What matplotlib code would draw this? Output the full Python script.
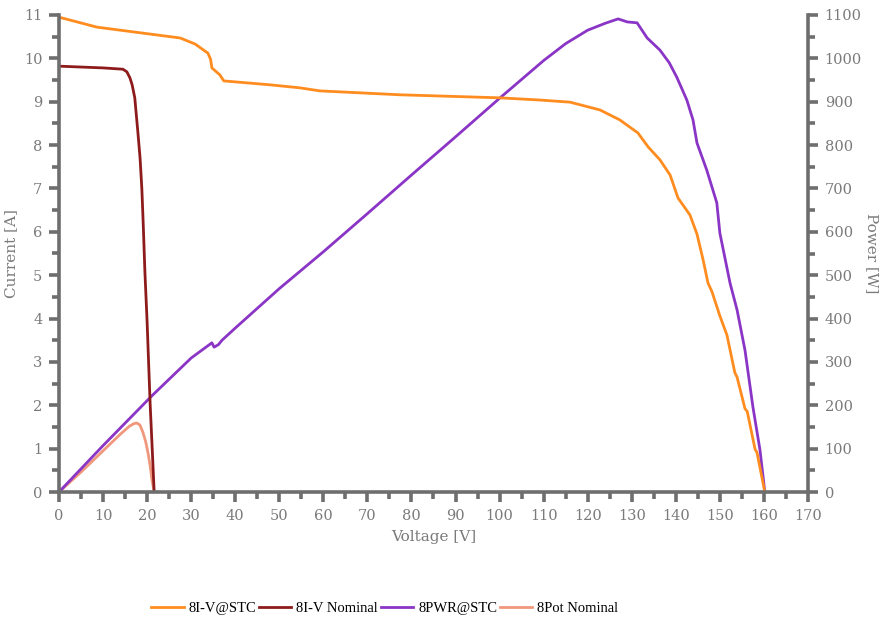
import matplotlib
matplotlib.use("Agg")
import matplotlib.pyplot as plt
from matplotlib.ticker import MultipleLocator

# I-V curve at STC (voltage [V], current [A])
iv_stc_v = [0, 8.6, 20.7, 27.5, 30.9, 33.8, 34.4, 34.7, 36.5, 37.4, 47.9, 54.7, 59.2,
            77.4, 100, 109, 116, 122.8, 127.3, 131.4, 133.7, 136.4, 138.7, 140.5,
            143.2, 144.8, 146.2, 147.3, 148.2, 150, 151.6, 153.4, 153.9, 155.7,
            156.2, 158, 158.4, 160.2]
iv_stc_i = [10.95, 10.72, 10.56, 10.47, 10.33, 10.12, 9.98, 9.78, 9.62, 9.48, 9.39,
            9.32, 9.25, 9.16, 9.09, 9.04, 8.99, 8.81, 8.58, 8.28, 7.96, 7.66, 7.31,
            6.78, 6.39, 5.95, 5.35, 4.82, 4.62, 4.06, 3.62, 2.75, 2.65, 1.92,
            1.86, 0.98, 0.92, 0.0]

# Nominal I-V curve
iv_nom_v = [0, 5, 10, 14.5, 15.4, 16.1, 16.6, 17.2, 17.9, 18.4, 18.8, 19.1, 19.5,
            20.0, 20.35, 20.7, 21.2, 21.6]
iv_nom_i = [9.82, 9.80, 9.78, 9.75, 9.69, 9.55, 9.39, 9.09, 8.30, 7.70, 7.00, 6.23,
            5.07, 3.92, 2.95, 2.0, 0.9, 0.0]

# Power curve at STC (voltage [V], power [W])
pwr_stc_v = [0, 10, 21.1, 30, 34.7, 35.2, 36.2, 37, 40, 50, 60, 70, 80, 90, 100,
             110, 115, 120, 124, 126.9, 129, 131.2, 133.5, 136.4, 138.5, 140.2,
             142.5, 143.9, 144.8, 147, 149.3, 150, 152.3, 153.9, 155.7, 157.5,
             159.1, 160.2]
pwr_stc_p = [0, 107, 222, 309, 344, 334, 340, 350, 378, 469, 554, 642, 731, 819, 908,
             995, 1034, 1065, 1081, 1091, 1084, 1082, 1047, 1019, 990, 957, 904,
             858, 805, 743, 667, 597, 482, 420, 327, 196, 97, 0]

# Nominal power curve
pot_nom_v = [0, 5, 10, 14, 16, 17.1, 17.7, 18.4, 19.1, 19.7, 20.2, 20.7, 21.1, 21.6]
pot_nom_p = [0, 46, 95, 134, 152, 158, 159, 154, 136, 115, 90, 60, 28, 0]

voltage_ticks = list(range(0, 171, 10))
current_ticks = list(range(0, 12))
power_ticks = list(range(0, 1101, 100))

AXIS_GREY = "#6e6e6e"
TEXT_GREY = "#7a7a7a"
C_STC = "#ff8c1f"
C_NOM = "#8e1b1b"
C_PWR = "#8a35c6"
C_POT = "#f0977c"

fig = plt.figure(figsize=(8.87, 6.26), dpi=100)
ax = fig.add_axes([59 / 887, 1 - 492 / 626, (808 - 59) / 887, (492 - 15) / 626])
ax2 = ax.twinx()
ax.set_zorder(ax2.get_zorder() + 1)
ax.patch.set_visible(False)

l_pwr, = ax2.plot(pwr_stc_v, pwr_stc_p, color=C_PWR, lw=2.0, label="8PWR@STC")
l_pot, = ax2.plot(pot_nom_v, pot_nom_p, color=C_POT, lw=2.0, label="8Pot Nominal", zorder=1)
l_stc, = ax.plot(iv_stc_v, iv_stc_i, color=C_STC, lw=2.0, label="8I-V@STC")
l_nom, = ax.plot(iv_nom_v, iv_nom_i, color=C_NOM, lw=2.0, label="8I-V Nominal")

ax.set_xlim(0, 170)
ax.set_ylim(0, 11)
ax2.set_ylim(0, 1100)

ax.set_xticks(voltage_ticks)
ax.set_yticks(current_ticks)
ax2.set_yticks(power_ticks)
ax.xaxis.set_minor_locator(MultipleLocator(5))
ax.yaxis.set_minor_locator(MultipleLocator(0.5))
ax2.yaxis.set_minor_locator(MultipleLocator(50))

for a in (ax, ax2):
    a.spines["top"].set_visible(False)
    for s in a.spines.values():
        s.set_color(AXIS_GREY)
        s.set_linewidth(2.6)
    a.tick_params(which="major", length=7, width=2.6, color=AXIS_GREY,
                  labelcolor=TEXT_GREY, labelsize=10.5, pad=5)
    a.tick_params(which="minor", length=5, width=2.6, color=AXIS_GREY)
    for lab in a.get_xticklabels() + a.get_yticklabels():
        lab.set_family("DejaVu Serif")

ax2.spines["left"].set_visible(False)
ax2.spines["bottom"].set_visible(False)
ax.spines["right"].set_visible(False)

ax.set_xlabel("Voltage [V]", fontfamily="DejaVu Serif", fontsize=11,
              color=TEXT_GREY, labelpad=5)
ax.set_ylabel("Current [A]", fontfamily="DejaVu Serif", fontsize=11,
              color=TEXT_GREY, labelpad=4)
ax2.set_ylabel("Power [W]", fontfamily="DejaVu Serif", fontsize=11,
               color=TEXT_GREY, rotation=-90, labelpad=12)

fig.legend(handles=[l_stc, l_nom, l_pwr, l_pot], loc="center",
           bbox_to_anchor=(385 / 887, 1 - 608 / 626), ncol=4, frameon=False,
           prop=dict(family="Liberation Serif", size=10.5), handlelength=2.2,
           handletextpad=0.35, columnspacing=0.2)

fig.savefig("out.png", dpi=100)
